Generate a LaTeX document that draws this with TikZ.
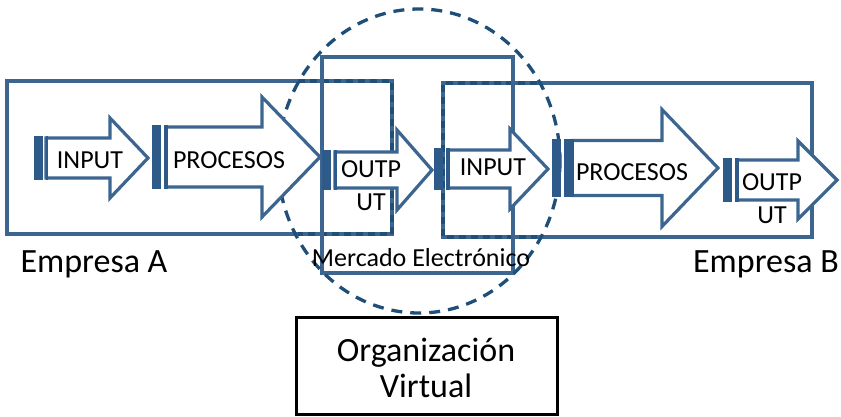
\documentclass[tikz,border=0pt]{standalone}
\usepackage{fontspec}
\setmainfont{Carlito}
\definecolor{azul}{HTML}{3C6690}
\definecolor{azulosc}{HTML}{2D5A88}
\definecolor{raya}{HTML}{1F4E79}
\tikzset{
  caja/.style={draw=azul, line width=3.2pt},
  rayada/.style={draw=raya, line width=4pt, dash pattern=on 7pt off 5pt},
  circulo/.style={draw=raya, line width=3.3pt, dash pattern=on 11pt off 8pt},
  flechaborde/.style={draw=azul, line width=3.2pt, fill=white, line join=miter},
  barra/.style={fill=azulosc},
  etiq/.style={font=\fontsize{26}{33}\selectfont, align=center, inner sep=0pt},
  grande/.style={font=\fontsize{34}{36}\selectfont, align=center, inner sep=0pt}
}
% block arrow: bar x, body x, head x, tip x, mid y, body half, head half
\newcommand{\flecha}[7]{%
  \draw[flechaborde] (#2,#5-#6) -- (#3,#5-#6) -- (#3,#5-#7) -- (#4,#5)
    -- (#3,#5+#7) -- (#3,#5+#6) -- (#2,#5+#6) -- cycle;
  \fill[barra] (#1,#5-#6-1.6) rectangle (#1+9,#5+#6+1.6);
  \fill[barra] (#1+11.5,#5-#6-1.6) rectangle (#2+1.6,#5+#6+1.6);
}
\begin{document}
\begin{tikzpicture}[x=1pt,y=-1pt]
  \useasboundingbox (0,0) rectangle (841,416);

  % Empresas
  \draw[caja] (7,81) rectangle (392,234);
  \draw[caja] (443,83) rectangle (812,237);
  \draw[rayada] (298,81) -- (392,81) -- (392,234) -- (298,234);
  \draw[rayada] (537,83) -- (443,83) -- (443,237) -- (537,237);

  % Mercado
  \draw[caja] (322,57) rectangle (513,273);
  \draw[circulo] (419,161) ellipse [x radius=141, y radius=152];

  % Arrows
  \flecha{34}{46}{110}{148}{158}{20}{40}
  \flecha{152}{166}{262}{320}{157}{30}{60}
  \flecha{322}{335}{397}{432}{170}{18}{40}
  \flecha{434}{448}{510}{548}{169}{19}{40}
  \flecha{552}{572}{662}{718}{168}{27.5}{58.5}
  \flecha{723}{737}{798}{837}{180}{20}{39}

  \node[etiq] (inA) at (90,160) {INPUT};
  \node[etiq] (procA) at (229,160) {PROCESOS};
  \node[etiq] (outA) at (371,186) {OUTP\\UT};
  \node[etiq] (inB) at (493,167) {INPUT};
  \node[etiq] (procB) at (632,172) {PROCESOS};
  \node[etiq] (outB) at (772,199) {OUTP\\UT};

  \node[grande, anchor=base] (empA) at (94,272) {Empresa A};
  \node[grande, anchor=base] (empB) at (766,272) {Empresa B};
  \node[etiq, anchor=base] (merc) at (421,266) {Mercado Electrónico};

  % Organizacion
  \draw[line width=3pt] (296,317) rectangle (557,414);
  \node[grande] (org) at (426,368) {Organización\\Virtual};
\end{tikzpicture}
\end{document}
